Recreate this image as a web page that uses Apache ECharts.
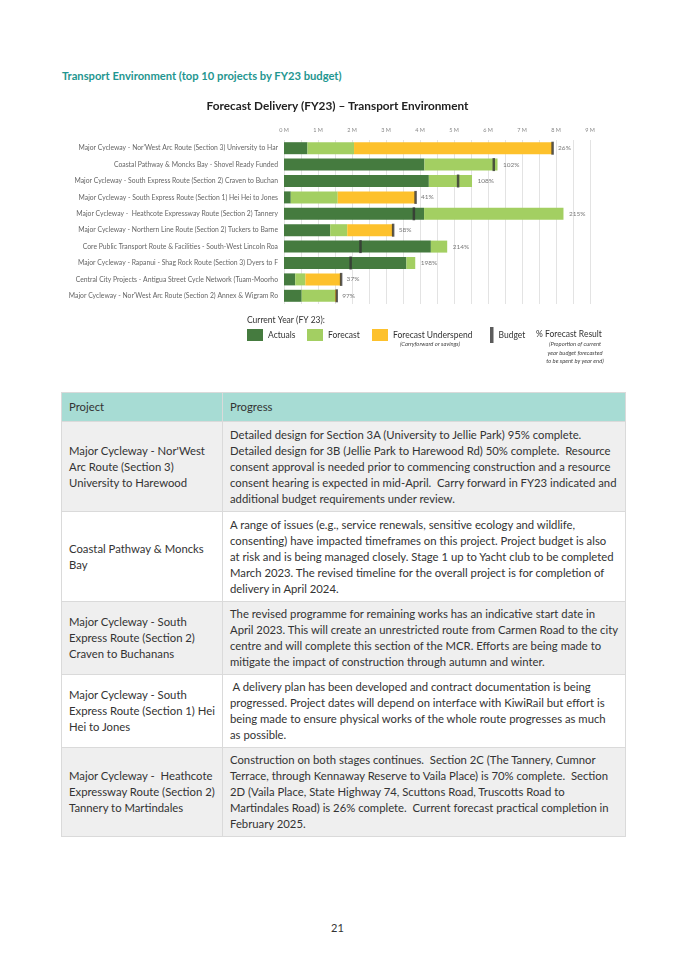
<!DOCTYPE html>
<html>
<head>
<meta charset="utf-8">
<script src="https://cdn.jsdelivr.net/npm/echarts@6/dist/echarts.min.js"></script>
<style>
  html, body { margin:0; padding:0; background:#fff; }
  body { width:675px; height:955px; position:relative; overflow:hidden; font-family: Lato, "Open Sans", sans-serif; }
  #heading { position:absolute; left:62px; top:69px; font-size:11.2px; font-weight:bold; color:#1f9690; white-space:nowrap; }
  #chart { position:absolute; left:0; top:0; width:675px; height:380px; }
  table { position:absolute; left:61px; top:392px; width:564px; border-collapse:collapse; font-size:11.3px; color:#333; table-layout:fixed; }
  td { border:1px solid #dadada; padding:0 0 0 7px; vertical-align:middle; white-space:pre; line-height:16px; overflow:hidden; }
  tr.hd td { background:#a7dcd4; }
  tr.g td { background:#efefef; }
  tr.w td { background:#fff; }
  #page { position:absolute; left:0; width:675px; top:921px; text-align:center; font-size:11px; color:#333; }
</style>
</head>
<body>
<div id="heading">Transport Environment (top 10 projects by FY23 budget)</div>
<div id="chart"></div>
<table>
  <colgroup><col style="width:161px"><col style="width:403px"></colgroup>
  <tr class="hd" style="height:29px"><td>Project</td><td>Progress</td></tr>
  <tr class="g" style="height:90px"><td>Major Cycleway - Nor'West
Arc Route (Section 3)
University to Harewood</td><td>Detailed design for Section 3A (University to Jellie Park) 95% complete.
Detailed design for 3B (Jellie Park to Harewood Rd) 50% complete.  Resource
consent approval is needed prior to commencing construction and a resource
consent hearing is expected in mid-April.  Carry forward in FY23 indicated and
additional budget requirements under review.</td></tr>
  <tr class="w" style="height:90px"><td>Coastal Pathway &amp; Moncks
Bay</td><td>A range of issues (e.g., service renewals, sensitive ecology and wildlife,
consenting) have impacted timeframes on this project. Project budget is also
at risk and is being managed closely. Stage 1 up to Yacht club to be completed
March 2023. The revised timeline for the overall project is for completion of
delivery in April 2024.</td></tr>
  <tr class="g" style="height:73px"><td>Major Cycleway - South
Express Route (Section 2)
Craven to Buchanans</td><td>The revised programme for remaining works has an indicative start date in
April 2023. This will create an unrestricted route from Carmen Road to the city
centre and will complete this section of the MCR. Efforts are being made to
mitigate the impact of construction through autumn and winter.</td></tr>
  <tr class="w" style="height:73px"><td>Major Cycleway - South
Express Route (Section 1) Hei
Hei to Jones</td><td> A delivery plan has been developed and contract documentation is being
progressed. Project dates will depend on interface with KiwiRail but effort is
being made to ensure physical works of the whole route progresses as much
as possible.</td></tr>
  <tr class="g" style="height:89px"><td>Major Cycleway -  Heathcote
Expressway Route (Section 2)
Tannery to Martindales</td><td>Construction on both stages continues.  Section 2C (The Tannery, Cumnor
Terrace, through Kennaway Reserve to Vaila Place) is 70% complete.  Section
2D (Vaila Place, State Highway 74, Scuttons Road, Truscotts Road to
Martindales Road) is 26% complete.  Current forecast practical completion in
February 2025.</td></tr>
</table>
<div id="page">21</div>
<script>
const categories = [
  "Major Cycleway - Nor'West Arc Route (Section 3) University to Har",
  "Coastal Pathway & Moncks Bay - Shovel Ready Funded",
  "Major Cycleway - South Express Route (Section 2) Craven to Buchan",
  "Major Cycleway - South Express Route (Section 1) Hei Hei to Jones",
  "Major Cycleway -  Heathcote Expressway Route (Section 2) Tannery",
  "Major Cycleway - Northern Line Route (Section 2) Tuckers to Barne",
  "Core Public Transport Route & Facilities - South-West Lincoln Roa",
  "Major Cycleway - Rapanui - Shag Rock Route (Section 3) Dyers to F",
  "Central City Projects - Antigua Street Cycle Network (Tuam-Moorho",
  "Major Cycleway - Nor'West Arc Route (Section 2) Annex & Wigram Ro"
];
// values in $M
const actuals  = [0.69, 4.13, 4.26, 0.20, 4.12, 1.36, 4.32, 3.60, 0.33, 0.52];
const forecast = [2.06, 6.28, 5.53, 1.58, 8.22, 1.86, 4.80, 3.86, 0.63, 1.50];
const budget   = [7.90, 6.17, 5.12, 3.87, 3.82, 3.21, 2.25, 1.96, 1.68, 1.55];
const pctLabels = ['26%', '102%', '108%', '41%', '215%', '58%', '214%', '198%', '37%', '97%'];

const C_ACT = '#457b3f', C_FC = '#a3cf62', C_UND = '#fdc12c', C_BUD = '#333333';

const forecastPart = forecast.map((f, i) => +(f - actuals[i]).toFixed(3));
const underspend = forecast.map((f, i) => Math.max(0, +(budget[i] - f).toFixed(3)));
const labelPos = forecast.map((f, i) => [Math.max(f, budget[i]), i]);

const chart = echarts.init(document.getElementById('chart'), null, { renderer: 'canvas' });
const legendBase = { orient: 'horizontal', icon: 'rect', itemGap: 0, padding: 0, selectedMode: false,
  textStyle: { fontSize: 8.5, color: '#333', fontFamily: 'Lato' } };
chart.setOption({
  animation: false,
  textStyle: { fontFamily: 'Lato' },
  title: {
    text: 'Forecast Delivery (FY23) \u2013 Transport Environment',
    left: 'center', top: 95,
    textStyle: { fontSize: 11.8, fontWeight: 'bold', color: '#222', fontFamily: 'Lato' }
  },
  grid: { left: 284, top: 140, width: 306, height: 164, containLabel: false },
  xAxis: {
    type: 'value', position: 'top', min: 0, max: 9, interval: 1,
    axisLabel: { formatter: v => v + ' M', fontSize: 5.5, color: '#888', margin: 7 },
    axisLine: { show: false }, axisTick: { show: false },
    splitLine: { show: true, lineStyle: { color: '#e3e3e3', width: 1 } },
    minorTick: { show: false, splitNumber: 2 },
    minorSplitLine: { show: true, lineStyle: { color: '#e3e3e3', width: 1 } }
  },
  yAxis: {
    type: 'category', inverse: true, data: categories,
    axisLine: { show: false }, axisTick: { show: false },
    axisLabel: { fontSize: 6.8, color: '#666', margin: 6 }
  },
  legend: [
    Object.assign({}, legendBase, { data: ['Actuals'], left: 247, top: 329, itemWidth: 16, itemHeight: 12 }),
    Object.assign({}, legendBase, { data: ['Forecast'], left: 307, top: 329, itemWidth: 16, itemHeight: 12 }),
    Object.assign({}, legendBase, { data: ['Forecast Underspend'], left: 372, top: 329, itemWidth: 16, itemHeight: 12 }),
    Object.assign({}, legendBase, { data: ['Budget'], left: 490, top: 327, itemWidth: 3.5, itemHeight: 16 })
  ],
  graphic: [
    { type: 'text', left: 247, top: 316, style: { text: 'Current Year (FY 23):', fontSize: 8.5, fill: '#333', fontFamily: 'Lato' } },
    { type: 'text', x: 430, y: 344, style: { text: '(Carryforward or savings)', fontSize: 5.8, fontStyle: 'italic', fill: '#444', fontFamily: 'Lato', textAlign: 'center', textVerticalAlign: 'middle' } },
    { type: 'text', left: 536, top: 330, style: { text: '% Forecast Result', fontSize: 8.5, fill: '#333', fontFamily: 'Lato' } },
    { type: 'text', x: 575, y: 340, style: { text: '(Proportion of current\nyear budget forecasted\nto be spent by year end)', fontSize: 5.8, lineHeight: 8.5, fontStyle: 'italic', fill: '#444', fontFamily: 'Lato', textAlign: 'center' } }
  ],
  series: [
    { name: 'Actuals', type: 'bar', stack: 'fy', barWidth: 12, data: actuals, itemStyle: { color: C_ACT } },
    { name: 'Forecast', type: 'bar', stack: 'fy', barWidth: 12, data: forecastPart, itemStyle: { color: C_FC } },
    { name: 'Forecast Underspend', type: 'bar', stack: 'fy', barWidth: 12, data: underspend, itemStyle: { color: C_UND } },
    { name: 'Budget', type: 'scatter', symbol: 'rect', symbolSize: [2.5, 13], z: 5,
      data: budget.map((b, i) => [b, i]), itemStyle: { color: C_BUD } },
    { name: 'pct', type: 'scatter', symbolSize: 1, silent: true, z: 6,
      itemStyle: { color: 'rgba(0,0,0,0)' },
      data: labelPos,
      label: { show: true, position: 'right', distance: 5, fontSize: 6.5, color: '#555',
        formatter: p => pctLabels[p.dataIndex] } }
  ]
});
</script>
</body>
</html>
